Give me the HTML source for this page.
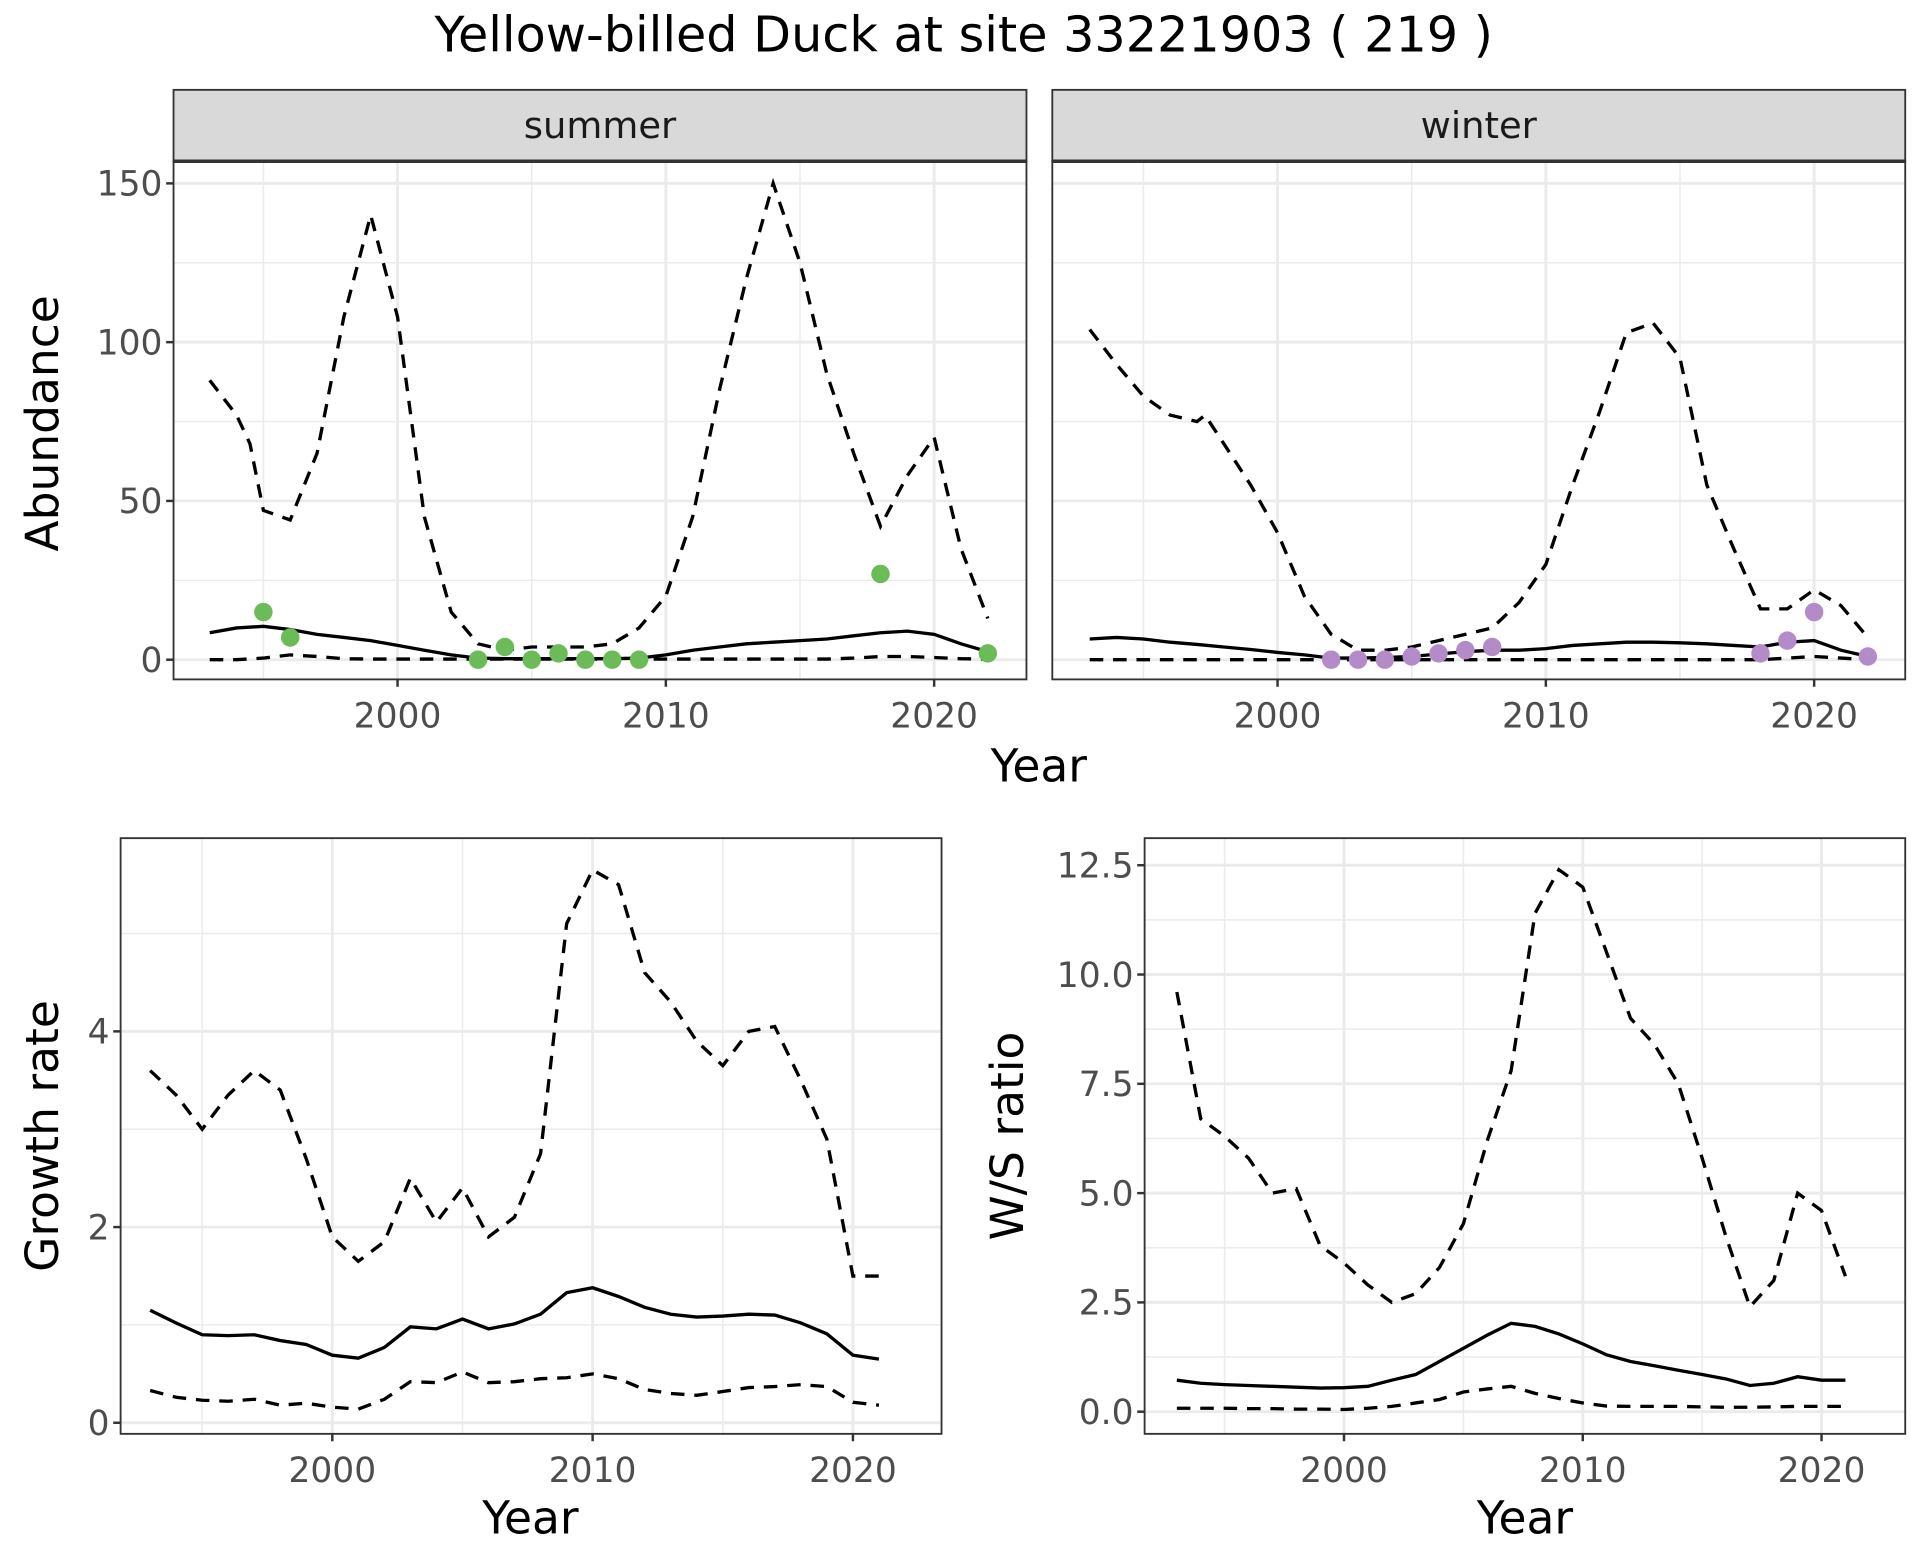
<!DOCTYPE html>
<html><head><meta charset="utf-8"><style>
html,body{margin:0;padding:0;background:#fff}
svg{display:block}
text{font-family:"DejaVu Sans","Liberation Sans",sans-serif}
</style></head><body>
<svg id="s" width="1920" height="1560" viewBox="0 0 1560 1267.5" xmlns="http://www.w3.org/2000/svg">
<rect width="1560" height="1267.5" fill="#fff"/>
<text x="783" y="42" font-size="40" text-anchor="middle" fill="#000">Yellow-billed Duck at site 33221903 ( 219 )</text>
<g id="g"></g>
</svg>
<script>
var g=document.getElementById('g');var out='';
function panel(o){
 var X=function(y){return o.x0+(y-o.xa)*o.xs;}, Y=function(v){return o.y0-v*o.ys;};
 out+='<rect x="'+o.l+'" y="'+o.t+'" width="'+(o.r-o.l)+'" height="'+(o.b-o.t)+'" fill="#fff"/>';
 o.ymin.forEach(function(v){out+='<line x1="'+o.l+'" x2="'+o.r+'" y1="'+Y(v)+'" y2="'+Y(v)+'" stroke="#ebebeb" stroke-width="1.2"/>';});
 [1995,2005,2015].forEach(function(v){out+='<line y1="'+o.t+'" y2="'+o.b+'" x1="'+X(v)+'" x2="'+X(v)+'" stroke="#ebebeb" stroke-width="1.2"/>';});
 o.ymaj.forEach(function(v){out+='<line x1="'+o.l+'" x2="'+o.r+'" y1="'+Y(v)+'" y2="'+Y(v)+'" stroke="#ebebeb" stroke-width="2.4"/>';});
 [2000,2010,2020].forEach(function(v){out+='<line y1="'+o.t+'" y2="'+o.b+'" x1="'+X(v)+'" x2="'+X(v)+'" stroke="#ebebeb" stroke-width="2.4"/>';
  out+='<line y1="'+o.b+'" y2="'+(o.b+6)+'" x1="'+X(v)+'" x2="'+X(v)+'" stroke="#333" stroke-width="2"/>';
  out+='<text x="'+X(v)+'" y="'+(o.b+39)+'" font-size="28" text-anchor="middle" fill="#4d4d4d">'+v+'</text>';});
 if(o.ylab){o.ymaj.forEach(function(v,i){out+='<line x1="'+(o.l-6)+'" x2="'+o.l+'" y1="'+Y(v)+'" y2="'+Y(v)+'" stroke="#333" stroke-width="2"/>';
  out+='<text x="'+(o.l-9)+'" y="'+(Y(v)+10)+'" font-size="28" text-anchor="end" fill="#4d4d4d">'+o.ylab[i]+'</text>';});}
 o.series.forEach(function(s){var d='';s.d.forEach(function(p,i){d+=(i?'L':'M')+X(p[0]).toFixed(1)+','+Y(p[1]).toFixed(1);});
  out+='<path d="'+d+'" fill="none" stroke="#000" stroke-width="2.7" '+(s.dash?'stroke-dasharray="11,8"':'')+'/>';});
 (o.pts||[]).forEach(function(p){out+='<circle cx="'+X(p[0])+'" cy="'+Y(p[1])+'" r="7.5" fill="'+o.pc+'"/>';});
 out+='<rect x="'+o.l+'" y="'+o.t+'" width="'+(o.r-o.l)+'" height="'+(o.b-o.t)+'" fill="none" stroke="#333" stroke-width="1.5"/>';
}
function yrs(a,start){return a.map(function(v,i){return Array.isArray(v)?v:[start+i,v];});}
var su=yrs([[1993,88],[1994,77],[1994.5,68],[1995,47],[1996,44],[1997,65],[1998,108],[1999,140],[2000,108],[2001,45],[2002,15],[2003,5],[2004,3],[2005,4],[2006,4],[2007,4],[2008,5],[2009,10],[2010,20],[2011,45],[2012,85],[2013,120],[2014,150],[2015,125],[2016,90],[2017,65],[2018,42],[2019,58],[2020,70],[2021,35],[2022,13]]);
var sm=yrs([8.5,10,10.5,9.5,8,7,6,4.5,3,1.5,0.5,0.3,0.3,0.3,0.3,0.3,0.5,1.5,3,4,5,5.5,6,6.5,7.5,8.5,9,8,5,2.5],1993);
var sl=yrs([0,0,0.5,1.5,1,0.3,0.2,0.2,0.2,0.2,0.2,0.2,0.2,0.2,0.2,0.2,0.2,0.2,0.2,0.2,0.2,0.2,0.2,0.2,0.5,1,1,0.7,0.3,0.2],1993);
var wu=yrs([[1993,104],[1994,93],[1995,83],[1996,77],[1997,75],[1997.3,77],[1998,68],[1999,55],[2000,40],[2001,20],[2002,8],[2003,3],[2004,3],[2005,4],[2006,6],[2007,8],[2008,10],[2009,18],[2010,30],[2011,55],[2012,78],[2013,103],[2014,106],[2015,95],[2016,55],[2017,35],[2018,16],[2019,16],[2020,22],[2021,17],[2022,7]]);
var wm=yrs([6.5,7,6.5,5.5,4.8,4,3.2,2.3,1.5,0.5,0.5,0.7,1,1.8,2.5,3,3,3.5,4.5,5,5.5,5.5,5.3,5,4.5,4,5.5,6,3,1],1993);
var wl=yrs([0,0,0,0,0,0,0,0,0,0,0,0,0,0,0,0,0,0,0,0,0,0,0,0,0,0,0.5,1,0.5,0],1993);
panel({l:141,r:834,t:131,b:552,x0:323,xa:2000,xs:21.8,y0:536,ys:2.58,ymaj:[0,50,100,150],ymin:[25,75,125],ylab:['0','50','100','150'],
 series:[{d:su,dash:1},{d:sm},{d:sl,dash:1}],pc:'#6bbb58',pts:[[1995,15],[1996,7],[2003,0],[2004,4],[2005,0],[2006,2],[2007,0],[2008,0],[2009,0],[2018,27],[2022,2]]});
panel({l:855,r:1548,t:131,b:552,x0:1038,xa:2000,xs:21.8,y0:536,ys:2.58,ymaj:[0,50,100,150],ymin:[25,75,125],
 series:[{d:wu,dash:1},{d:wm},{d:wl,dash:1}],pc:'#b48bc9',pts:[[2002,0],[2003,0],[2004,0],[2005,1],[2006,2],[2007,3],[2008,4],[2018,2],[2019,6],[2020,15],[2022,1]]});
[[141,834,'summer'],[855,1548,'winter']].forEach(function(a){out+='<rect x="'+a[0]+'" y="73" width="'+(a[1]-a[0])+'" height="58" fill="#d9d9d9" stroke="#333" stroke-width="1.5"/><line x1="'+a[0]+'" x2="'+a[1]+'" y1="131" y2="131" stroke="#333" stroke-width="2.8"/>';
 out+='<text x="'+((a[0]+a[1])/2)+'" y="112" font-size="30" text-anchor="middle" fill="#1a1a1a">'+a[2]+'</text>';});
var gu=yrs([3.6,3.35,3.0,3.35,3.6,3.4,2.7,1.9,1.65,1.85,2.5,2.05,2.4,1.9,2.1,2.75,5.1,5.65,5.5,4.6,4.3,3.9,3.65,4.0,4.05,3.5,2.9,1.5,1.5],1993);
var gm=yrs([1.15,1.02,0.9,0.89,0.9,0.84,0.8,0.69,0.66,0.77,0.98,0.96,1.06,0.96,1.01,1.11,1.33,1.38,1.29,1.18,1.11,1.08,1.09,1.11,1.1,1.02,0.91,0.69,0.65],1993);
var gl=yrs([0.33,0.26,0.23,0.22,0.24,0.18,0.2,0.16,0.14,0.24,0.42,0.41,0.52,0.41,0.42,0.45,0.46,0.5,0.45,0.34,0.3,0.28,0.32,0.36,0.37,0.39,0.37,0.21,0.18],1993);
panel({l:98,r:765,t:681,b:1165,x0:270,xa:2000,xs:21.15,y0:1156,ys:79.5,ymaj:[0,2,4],ymin:[1,3,5],ylab:['0','2','4'],series:[{d:gu,dash:1},{d:gm},{d:gl,dash:1}]});
var ru=yrs([9.6,6.7,6.3,5.8,5.0,5.1,3.8,3.4,2.9,2.5,2.7,3.3,4.3,6.2,7.8,11.4,12.4,12.0,10.5,9.0,8.4,7.5,5.8,4.0,2.4,3.0,5.0,4.6,3.1],1993);
var rm=yrs([0.72,0.65,0.62,0.6,0.58,0.56,0.54,0.55,0.58,0.72,0.85,1.15,1.45,1.75,2.02,1.95,1.78,1.55,1.3,1.15,1.05,0.95,0.85,0.75,0.6,0.65,0.8,0.72,0.72],1993);
var rl=yrs([0.08,0.08,0.08,0.07,0.07,0.06,0.06,0.05,0.08,0.12,0.2,0.28,0.45,0.52,0.58,0.42,0.3,0.2,0.13,0.12,0.12,0.12,0.11,0.1,0.1,0.11,0.12,0.12,0.12],1993);
panel({l:930,r:1548,t:681,b:1165,x0:1092,xa:2000,xs:19.4,y0:1147,ys:35.52,ymaj:[0,2.5,5,7.5,10,12.5],ymin:[1.25,3.75,6.25,8.75,11.25],ylab:['0.0','2.5','5.0','7.5','10.0','12.5'],series:[{d:ru,dash:1},{d:rm},{d:rl,dash:1}]});
out+='<text x="844" y="635" font-size="37" text-anchor="middle">Year</text>';
out+='<text x="431" y="1246" font-size="37" text-anchor="middle">Year</text>';
out+='<text x="1239" y="1246" font-size="37" text-anchor="middle">Year</text>';
out+='<text transform="translate(47,344) rotate(-90)" font-size="37" text-anchor="middle">Abundance</text>';
out+='<text transform="translate(47,923) rotate(-90)" font-size="37" text-anchor="middle">Growth rate</text>';
out+='<text transform="translate(831,923) rotate(-90)" font-size="37" text-anchor="middle">W/S ratio</text>';
g.innerHTML=out;
</script>
</body></html>
